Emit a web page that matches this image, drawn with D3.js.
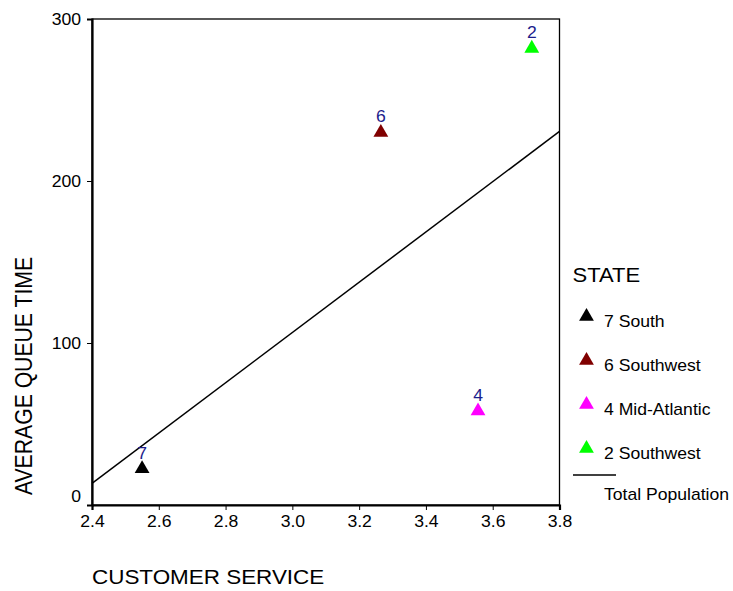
<!DOCTYPE html>
<html>
<head>
<meta charset="utf-8">
<script src="https://cdn.jsdelivr.net/npm/d3@7"></script>
<style>
  html, body { margin: 0; padding: 0; background: #fff; }
  svg text { font-family: "Liberation Sans", Arial, sans-serif; }
</style>
</head>
<body>
<svg id="chart" width="733" height="591"></svg>
<script>
// Regions: code, name, customer service score, average queue time
const regionCodes = ["7", "6", "4", "2"];
const regionNames = ["South", "Southwest", "Mid-Atlantic", "Southwest"];
const serviceScores = [2.55, 3.265, 3.556, 3.717];
const queueTimes = [23, 230.6, 58.6, 282.5];
const markerColors = ["#000000", "#800000", "#ff00ff", "#00ff00"];

const xTicks = [2.4, 2.6, 2.8, 3.0, 3.2, 3.4, 3.6, 3.8];
const yTicks = [0, 100, 200, 300];

// text is drawn slightly widened horizontally
const SX = 1.1;

const svg = d3.select("#chart");
const plot = { left: 92, right: 559.5, top: 19, bottom: 505 };

const x = d3.scaleLinear().domain([2.4, 3.8]).range([plot.left, plot.right]);
const y = d3.scaleLinear().domain([0, 300]).range([plot.bottom, plot.top]);

function label(parent, px, py, str, size, opts = {}) {
  return parent.append("text")
    .attr("transform", `translate(${px},${py}) scale(${SX},1)` + (opts.rotate ? ` rotate(${opts.rotate})` : ""))
    .attr("text-anchor", opts.anchor || "start")
    .attr("font-size", size)
    .attr("fill", opts.fill || "#000")
    .text(str);
}

// frame around the plotting area
svg.append("rect")
  .attr("x", plot.left).attr("y", plot.top)
  .attr("width", plot.right - plot.left).attr("height", plot.bottom - plot.top)
  .attr("fill", "none").attr("stroke", "#000").attr("stroke-width", 1.3);

// x axis
const xAxis = svg.append("g")
  .attr("transform", `translate(0,${plot.bottom})`)
  .call(d3.axisBottom(x).tickValues(xTicks).tickFormat(d3.format(".1f")).tickSize(5).tickPadding(6));
xAxis.select(".domain").attr("stroke-width", 2.2);
xAxis.selectAll("text").attr("font-size", 16).attr("fill", "#000")
  .attr("font-family", "Liberation Sans, Arial, sans-serif")
  .attr("transform", `scale(${SX},1)`);

// y axis
const yAxis = svg.append("g")
  .attr("transform", `translate(${plot.left},0)`)
  .call(d3.axisLeft(y).tickValues(yTicks).tickSize(5).tickPadding(6));
yAxis.select(".domain").attr("stroke-width", 2.2);
yAxis.selectAll("text").attr("font-size", 16).attr("fill", "#000")
  .attr("font-family", "Liberation Sans, Arial, sans-serif")
  .attr("x", -11 / SX)
  .attr("transform", `scale(${SX},1)`)
  .attr("dy", d => d === 0 ? "-0.2em" : "0.32em");
yAxis.selectAll(".tick").filter(d => d === 0).select("line").remove();

// least-squares fit over all regions
const mx = d3.mean(serviceScores), my = d3.mean(queueTimes);
const sxy = d3.sum(serviceScores, (v, i) => (v - mx) * (queueTimes[i] - my));
const sxx = d3.sum(serviceScores, v => (v - mx) * (v - mx));
const slope = sxy / sxx, intercept = my - slope * mx;
const fitEnds = x.domain();
svg.append("line")
  .attr("x1", x(fitEnds[0])).attr("y1", y(intercept + slope * fitEnds[0]))
  .attr("x2", x(fitEnds[1])).attr("y2", y(intercept + slope * fitEnds[1]))
  .attr("stroke", "#000").attr("stroke-width", 1.5);

// triangle markers with region code above
const tri = d3.symbol().type(d3.symbolTriangle).size(95);
const pts = svg.append("g");
regionCodes.forEach((code, i) => {
  const px = x(serviceScores[i]), py = y(queueTimes[i]);
  pts.append("path")
    .attr("d", tri())
    .attr("transform", `translate(${px},${py + 1})`)
    .attr("fill", markerColors[i]);
  label(pts, px, py - 9, code, 16, { anchor: "middle", fill: "#1c1c8c" });
});

// axis titles
label(svg, plot.left, 583.5, "CUSTOMER SERVICE", 20.4);
label(svg, 32, 376, "AVERAGE QUEUE TIME", 21.2, { anchor: "middle", rotate: -90 });

// legend
const legend = svg.append("g");
label(legend, 572.5, 282, "STATE", 20);
regionCodes.forEach((code, i) => {
  const ly = 315.5 + i * 44;
  legend.append("path")
    .attr("d", tri())
    .attr("transform", `translate(586.5,${ly + 1})`)
    .attr("fill", markerColors[i]);
  label(legend, 604, ly + 11, `${code} ${regionNames[i]}`, 16);
});
legend.append("line")
  .attr("x1", 573).attr("x2", 616)
  .attr("y1", 475).attr("y2", 475)
  .attr("stroke", "#000").attr("stroke-width", 1.5);
label(legend, 604, 500, "Total Population", 16);
</script>
</body>
</html>
